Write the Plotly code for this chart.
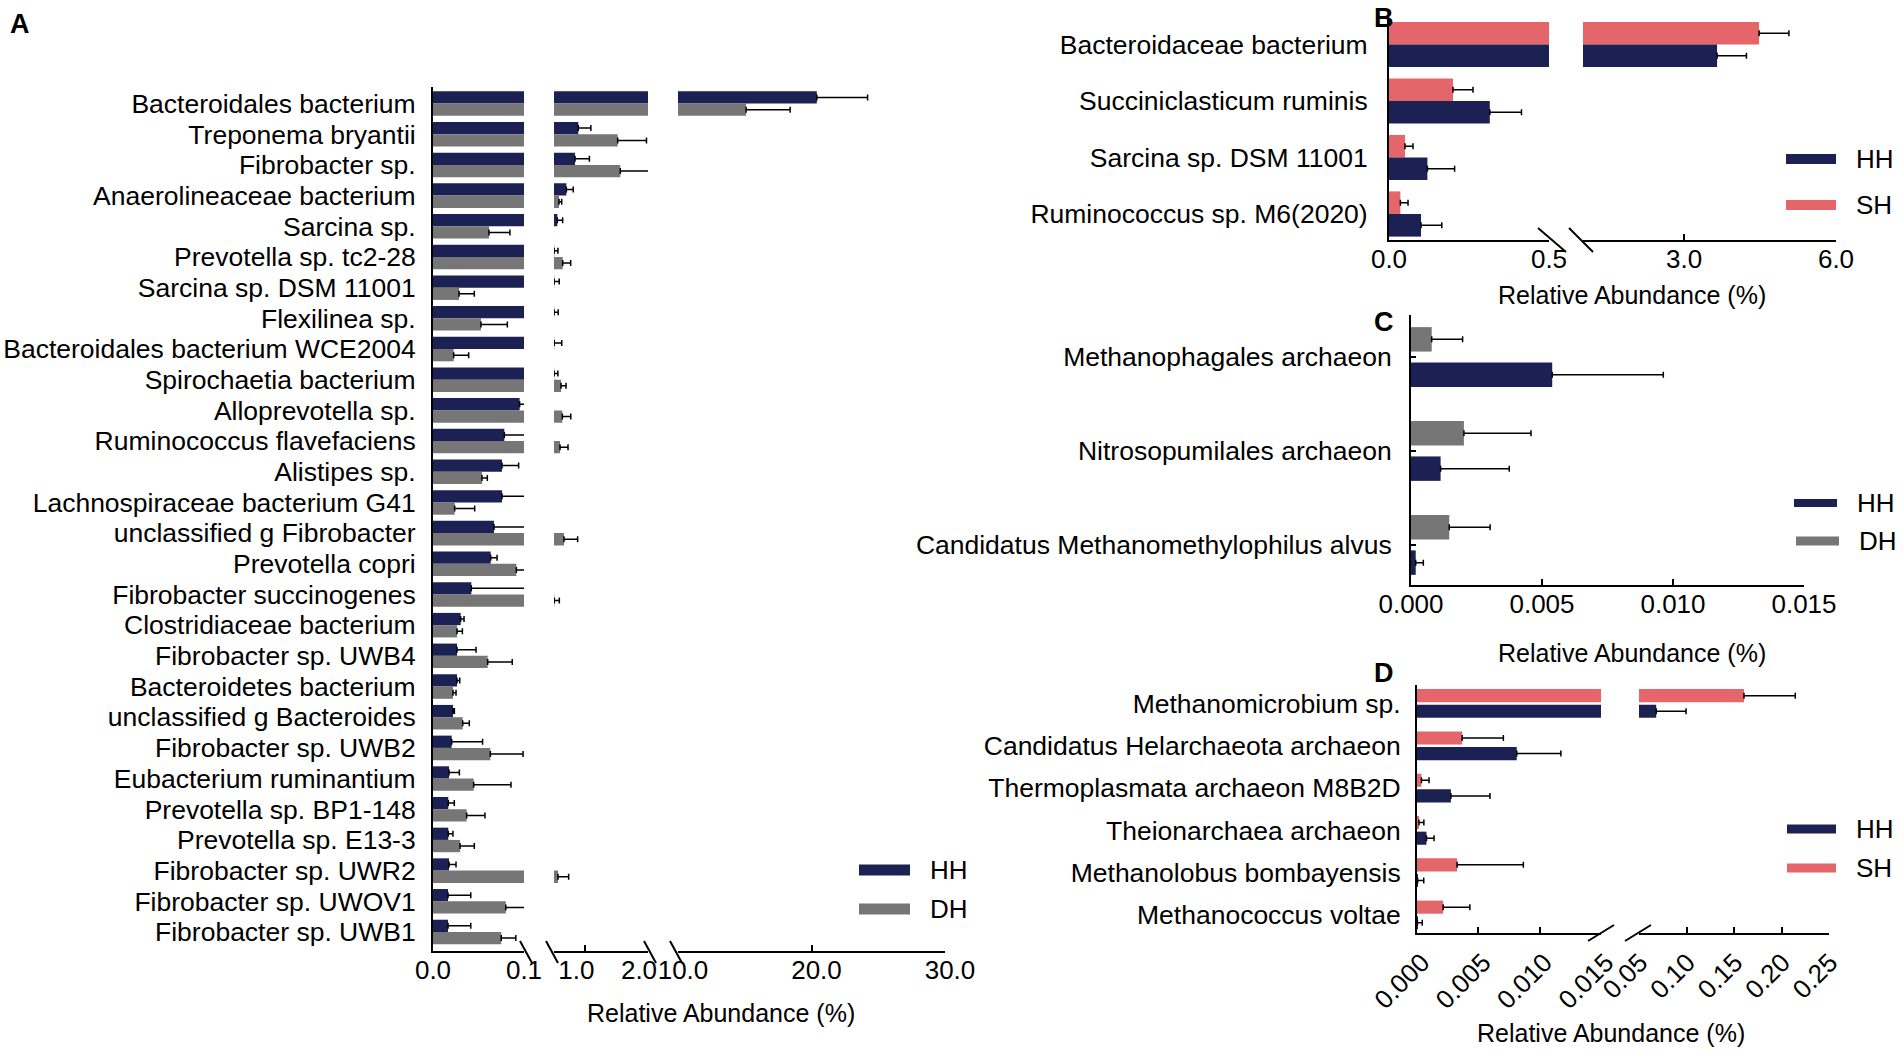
import plotly.graph_objects as go

# ---- data (relative abundance, %) ----
species_a = ['Bacteroidales bacterium', 'Treponema bryantii', 'Fibrobacter sp.',
             'Anaerolineaceae bacterium', 'Sarcina sp.', 'Prevotella sp. tc2-28',
             'Sarcina sp. DSM 11001', 'Flexilinea sp.', 'Bacteroidales bacterium WCE2004',
             'Spirochaetia bacterium', 'Alloprevotella sp.', 'Ruminococcus flavefaciens',
             'Alistipes sp.', 'Lachnospiraceae bacterium G41', 'unclassified g Fibrobacter',
             'Prevotella copri', 'Fibrobacter succinogenes', 'Clostridiaceae bacterium',
             'Fibrobacter sp. UWB4', 'Bacteroidetes bacterium', 'unclassified g Bacteroides',
             'Fibrobacter sp. UWB2', 'Eubacterium ruminantium', 'Prevotella sp. BP1-148',
             'Prevotella sp. E13-3', 'Fibrobacter sp. UWR2', 'Fibrobacter sp. UWOV1',
             'Fibrobacter sp. UWB1']
hh_a = [20.4, 0.888, 0.835, 0.697, 0.553, 0.503, 0.503, 0.502, 0.503, 0.502,
        0.0952, 0.0784, 0.0758, 0.0758, 0.067, 0.0634, 0.0421, 0.0304, 0.0264, 0.0264,
        0.022, 0.0205, 0.0176, 0.0168, 0.0168, 0.0176, 0.0165, 0.0165]
hh_a_err = [3.8, 0.2, 0.23, 0.11, 0.085, 0.06, 0.08, 0.065, 0.12, 0.06,
            0.03, 0.03, 0.0183, 0.03, 0.04, 0.007, 0.07, 0.0037, 0.0209, 0.003,
            0.0015, 0.034, 0.0114, 0.0066, 0.0051, 0.0077, 0.025, 0.025]
dh_a = [15.1, 1.516, 1.558, 0.58, 0.0615, 0.639, 0.0286, 0.0527, 0.0227, 0.612,
        0.633, 0.596, 0.0538, 0.0238, 0.659, 0.0916, 0.505, 0.0264, 0.0601, 0.022,
        0.0326, 0.063, 0.0447, 0.037, 0.0297, 0.564, 0.08, 0.075]
dh_a_err = [3.3, 0.46, 0.69, 0.043, 0.023, 0.127, 0.0168, 0.029, 0.0165, 0.08,
            0.135, 0.128, 0.0059, 0.022, 0.218, 0.012, 0.08, 0.0059, 0.027, 0.0033,
            0.0073, 0.036, 0.041, 0.0201, 0.0157, 0.17, 0.03, 0.016]

species_b = ['Bacteroidaceae bacterium', 'Succiniclasticum ruminis',
             'Sarcina sp. DSM 11001', 'Ruminococcus sp. M6(2020)']
hh_b = [3.65, 0.315, 0.12, 0.1]
hh_b_err = [0.58, 0.099, 0.085, 0.065]
sh_b = [4.48, 0.2, 0.05, 0.0355]
sh_b_err = [0.59, 0.0625, 0.025, 0.024]

species_c = ['Methanophagales archaeon', 'Nitrosopumilales archaeon',
             'Candidatus Methanomethylophilus alvus']
hh_c = [0.00539, 0.00113, 0.00018]
hh_c_err = [0.00424, 0.00262, 0.00029]
dh_c = [0.00079, 0.00202, 0.00146]
dh_c_err = [0.00118, 0.00256, 0.00156]

species_d = ['Methanomicrobium sp.', 'Candidatus Helarchaeota archaeon',
             'Thermoplasmata archaeon M8B2D', 'Theionarchaea archaeon',
             'Methanolobus bombayensis', 'Methanococcus voltae']
hh_d = [0.0681, 0.00813, 0.00276, 0.00077, 0.00005, 0.00003]
hh_d_err = [0.0314, 0.0036, 0.00319, 0.00062, 0.0005, 0.0004]
sh_d = [0.1605, 0.00368, 0.00036, 0.00016, 0.00327, 0.00213]
sh_d_err = [0.054, 0.00336, 0.00062, 0.0004, 0.0054, 0.00218]

NAVY = '#1b2253'
GREY = '#767676'
PINK = '#e4666b'
FONT = 'Arial, Liberation Sans, sans-serif'

W, H = 1903, 1054


def px(x):
    return x / W


def py(y):
    return 1 - y / H


def hbar(vals, errs, offset, width, color, xa, ya):
    return go.Bar(
        x=vals, y=list(range(len(vals))), orientation='h',
        width=width, offset=offset,
        marker=dict(color=color, line=dict(width=0)),
        error_x=dict(type='data', array=errs, arrayminus=[0] * len(errs),
                     symmetric=False, color='black', thickness=1.5, width=3),
        xaxis=xa, yaxis=ya, showlegend=False)


fig = go.Figure()

# A: three segments, HH on top, DH below
for xa in ['x', 'x2', 'x3']:
    fig.add_trace(hbar(hh_a, hh_a_err, -0.4, 0.4, NAVY, xa, 'y'))
    fig.add_trace(hbar(dh_a, dh_a_err, 0.0, 0.4, GREY, xa, 'y'))
# B: two segments, SH on top, HH below
for xa in ['x4', 'x5']:
    fig.add_trace(hbar(sh_b, sh_b_err, -0.4, 0.4, PINK, xa, 'y2'))
    fig.add_trace(hbar(hh_b, hh_b_err, 0.0, 0.4, NAVY, xa, 'y2'))
# C: single axis, DH on top, HH below, with a small gap
fig.add_trace(hbar(dh_c, dh_c_err, -0.318, 0.26, GREY, 'x6', 'y3'))
fig.add_trace(hbar(hh_c, hh_c_err, 0.058, 0.26, NAVY, 'x6', 'y3'))
# D: two segments, SH on top, HH below
for xa in ['x7', 'x8']:
    fig.add_trace(hbar(sh_d, sh_d_err, -0.34, 0.31, PINK, xa, 'y4'))
    fig.add_trace(hbar(hh_d, hh_d_err, 0.03, 0.31, NAVY, xa, 'y4'))

xcommon = dict(showline=True, linecolor='black', linewidth=2, ticks='inside',
               ticklen=6, tickwidth=1.5, tickcolor='black', showgrid=False,
               zeroline=False, tickmode='array', fixedrange=True, automargin=False,
               ticklabelstandoff=-5,
               tickfont=dict(size=26, color='black', family=FONT))
ycommon = dict(showline=True, linecolor='black', linewidth=2, showgrid=False,
               zeroline=False, tickmode='array', ticks='', fixedrange=True,
               automargin=False,
               tickfont=dict(size=26.5, color='black', family=FONT))

fig.update_layout(
    xaxis=dict(xcommon, domain=[px(433), px(524)], range=[0, 0.1], anchor='y',
               tickvals=[0, 0.1], ticktext=['0.0', '0.1']),
    xaxis2=dict(xcommon, domain=[px(554), px(648)], range=[0.5, 2.0], anchor='y',
                tickvals=[1.0, 2.0], ticktext=['1.0', '2.0'], ticklabelshift=-9),
    xaxis3=dict(xcommon, domain=[px(678), px(945)], range=[10, 30], anchor='y',
                tickvals=[10, 20, 30], ticktext=['10.0', '20.0', '30.0'],
                ticklabelshift=5),
    yaxis=dict(ycommon, domain=[py(951), py(87)], range=[27.62, -0.54], anchor='x',
               tickvals=list(range(len(species_a))), ticktext=species_a,
               ticklabelstandoff=10),
    xaxis4=dict(xcommon, domain=[px(1389), px(1549)], range=[0, 0.5], anchor='y2',
                tickvals=[0, 0.5], ticktext=['0.0', '0.5']),
    xaxis5=dict(xcommon, domain=[px(1583), px(1836)], range=[1, 6], anchor='y2',
                tickvals=[3, 6], ticktext=['3.0', '6.0']),
    yaxis2=dict(ycommon, domain=[py(240), py(17)], range=[3.46, -0.487], anchor='x4',
                tickvals=list(range(len(species_b))), ticktext=species_b,
                ticklabelstandoff=14),
    xaxis6=dict(xcommon, domain=[px(1411), px(1804)], range=[0, 0.015], anchor='y3',
                tickvals=[0, 0.005, 0.010, 0.015],
                ticktext=['0.000', '0.005', '0.010', '0.015']),
    yaxis3=dict(ycommon, domain=[py(585), py(315)], range=[2.426, -0.447], anchor='x6',
                tickvals=list(range(len(species_c))), ticktext=species_c,
                ticks='inside', ticklen=5, tickwidth=1.5, tickcolor='black',
                ticklabelstandoff=12),
    xaxis7=dict(xcommon, domain=[px(1417), px(1601)], range=[0, 0.015], anchor='y4',
                tickvals=[0, 0.005, 0.010, 0.015],
                ticktext=['0.000', '0.005', '0.010', '0.015'],
                tickangle=-45, ticklabelshift=5, ticklabelstandoff=2),
    xaxis8=dict(xcommon, domain=[px(1639), px(1829)], range=[0.05, 0.25], anchor='y4',
                tickvals=[0.05, 0.10, 0.15, 0.20, 0.25],
                ticktext=['0.05', '0.10', '0.15', '0.20', '0.25'],
                tickangle=-45, ticklabelshift=1, ticklabelstandoff=2),
    yaxis4=dict(ycommon, domain=[py(933), py(685)], range=[5.426, -0.437], anchor='x7',
                tickvals=list(range(len(species_d))), ticktext=species_d,
                ticklabelstandoff=9),
    width=W, height=H, autosize=False,
    margin=dict(l=0, r=0, t=0, b=0, autoexpand=False),
    paper_bgcolor='white', plot_bgcolor='white',
    font=dict(family=FONT, color='black'),
    barmode='overlay',
)

# axis break marks
shapes = []


def slash(xc, yc, dx, dy, back=True):
    if back:
        x0, y0, x1, y1 = xc - dx / 2, yc - dy / 2, xc + dx / 2, yc + dy / 2
    else:
        x0, y0, x1, y1 = xc - dx / 2, yc + dy / 2, xc + dx / 2, yc - dy / 2
    shapes.append(dict(type='line', xref='paper', yref='paper',
                       x0=px(x0), y0=py(y0), x1=px(x1), y1=py(y1),
                       line=dict(color='black', width=2)))


for xc in [526, 552, 650, 676]:
    slash(xc, 952, 12, 22)
slash(1552, 240, 28, 24)
slash(1581, 240, 24, 24)
slash(1601, 933, 26, 16, back=False)
slash(1638, 933, 26, 16, back=False)

# legends (wide bar swatches)
annotations = []


def legend_item(x0, yc, color, label, w=51, h=11):
    shapes.append(dict(type='rect', xref='paper', yref='paper',
                       x0=px(x0), x1=px(x0 + w), y0=py(yc + h / 2), y1=py(yc - h / 2),
                       fillcolor=color, line=dict(width=0)))
    annotations.append(dict(xref='paper', yref='paper', x=px(x0 + w + 18), y=py(yc),
                            text=label, showarrow=False, xanchor='left', yanchor='middle',
                            font=dict(size=26, family=FONT, color='black')))


legend_item(859, 870, NAVY, 'HH')
legend_item(859, 909, GREY, 'DH')
legend_item(1786, 159, NAVY, 'HH', w=50, h=10)
legend_item(1786, 205, PINK, 'SH', w=50, h=10)
legend_item(1794, 503, NAVY, 'HH', w=43, h=8)
legend_item(1796, 541, GREY, 'DH', w=43, h=9)
legend_item(1787, 829, NAVY, 'HH', w=49, h=9)
legend_item(1787, 868, PINK, 'SH', w=49, h=9)


def text(x, y, s, size=25, bold=False):
    annotations.append(dict(xref='paper', yref='paper', x=px(x), y=py(y),
                            text='<b>%s</b>' % s if bold else s, showarrow=False,
                            xanchor='center', yanchor='middle',
                            font=dict(size=size, family=FONT, color='black')))


# axis titles
text(721, 1013, 'Relative Abundance (%)')
text(1632, 295, 'Relative Abundance (%)')
text(1632, 653, 'Relative Abundance (%)')
text(1611, 1033, 'Relative Abundance (%)')
# panel letters
text(20, 24, 'A', size=27, bold=True)
text(1384, 18, 'B', size=27, bold=True)
text(1384, 322, 'C', size=27, bold=True)
text(1384, 673, 'D', size=27, bold=True)

fig.update_layout(shapes=shapes, annotations=annotations)

fig.write_html("out.html", config={'displayModeBar': False},
               post_script="document.body.style.margin='0';")
